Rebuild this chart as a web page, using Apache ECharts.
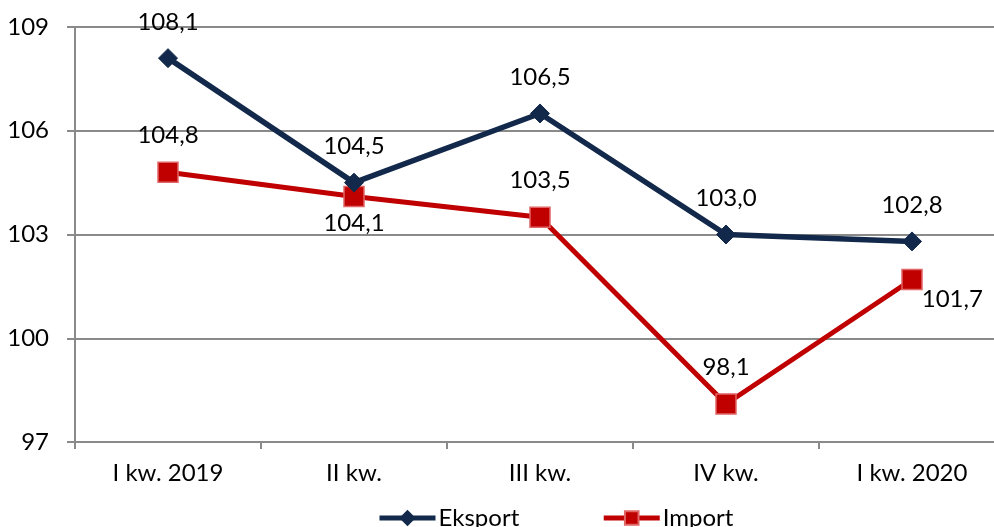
<!DOCTYPE html>
<html>
<head>
<meta charset="utf-8">
<script src="https://cdn.jsdelivr.net/npm/echarts@6/dist/echarts.min.js"></script>
<style>
  html, body { margin: 0; padding: 0; background: #fff; overflow: hidden; }
  body { width: 994px; height: 527px; }
  #chart { width: 1005px; height: 527px; }
</style>
</head>
<body>
<div id="chart"></div>
<script>
// Quarterly price indices (previous year = 100)
const categories = ['I kw. 2019', 'II kw.', 'III kw.', 'IV kw.', 'I kw. 2020'];
const eksport = [108.1, 104.5, 106.5, 103.0, 102.8];
const importVals = [104.8, 104.1, 103.5, 98.1, 101.7];
const yTicks = [97, 100, 103, 106, 109];

const FONT = 'Lato';
const AXIS_GREY = '#8a8a8a';
const fmt = v => v.toFixed(1).replace('.', ',');

const chart = echarts.init(document.getElementById('chart'));

// a couple of Import labels sit below / to the right of their points
const importData = importVals.map((v, i) => {
  if (i === 1) return { value: v, label: { position: 'bottom', distance: 4 } };
  if (i === 4) return { value: v, label: { position: 'right', distance: -1, offset: [0, 20] } };
  return v;
});

const labelStyle = {
  show: true, position: 'top', distance: 14,
  fontFamily: FONT, fontSize: 24, color: '#000',
  formatter: p => fmt(Number(p.value))
};

chart.setOption({
  animation: false,
  backgroundColor: '#fff',
  grid: { left: 75, right: 0, top: 27, bottom: 85, containLabel: false },
  legend: {
    top: 501,
    left: 372,
    itemWidth: 56,
    itemHeight: 17,
    itemGap: 82,
    lineStyle: { width: 5 },
    textStyle: { fontFamily: FONT, fontSize: 24, color: '#000', padding: [0, 0, 0, -2] },
    data: ['Eksport', 'Import']
  },
  xAxis: {
    type: 'category',
    data: categories,
    boundaryGap: true,
    axisLine: { lineStyle: { color: AXIS_GREY, width: 2 } },
    axisTick: { show: true, length: 7, lineStyle: { color: AXIS_GREY, width: 2 } },
    axisLabel: { fontFamily: FONT, fontSize: 24, color: '#000', margin: 19 }
  },
  yAxis: {
    type: 'value',
    min: yTicks[0],
    max: yTicks[yTicks.length - 1],
    interval: 3,
    axisLine: { show: true, lineStyle: { color: AXIS_GREY, width: 2 } },
    axisTick: { show: true, length: 8, lineStyle: { color: AXIS_GREY, width: 2 } },
    axisLabel: { fontFamily: FONT, fontSize: 24, color: '#000', margin: 26 },
    splitLine: { show: true, lineStyle: { color: AXIS_GREY, width: 2 } }
  },
  series: [
    {
      name: 'Eksport',
      type: 'line',
      data: eksport,
      symbol: 'diamond',
      symbolSize: 19,
      lineStyle: { color: '#13294b', width: 5.5 },
      itemStyle: { color: '#13294b', borderColor: '#13294b', borderWidth: 1 },
      label: labelStyle,
      z: 3
    },
    {
      name: 'Import',
      type: 'line',
      data: importData,
      symbol: 'rect',
      symbolSize: 20,
      lineStyle: { color: '#c00000', width: 5 },
      itemStyle: { color: '#c00000', borderColor: '#e06666', borderWidth: 1.5 },
      label: labelStyle,
      z: 2
    }
  ]
});
</script>
</body>
</html>
